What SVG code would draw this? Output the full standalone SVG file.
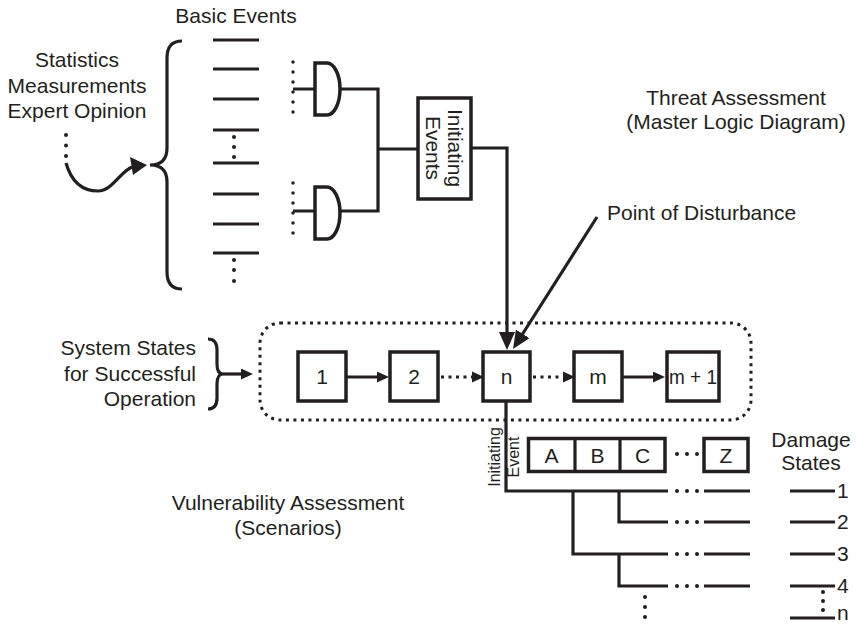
<svg xmlns="http://www.w3.org/2000/svg" width="856" height="626" viewBox="0 0 856 626">
<defs>
<style>
text{font-family:"Liberation Sans",Arial,sans-serif;font-size:21px;fill:#231f20}
.m{text-anchor:middle}
.e{text-anchor:end}
.s{font-size:16px}
.ln{stroke:#231f20;stroke-width:3.2;fill:none}
.bx{stroke:#231f20;stroke-width:3.5;fill:#fff}
.dt{stroke:#231f20;stroke-width:3;fill:none;stroke-dasharray:3 4.5}
.dc{stroke:#231f20;stroke-width:3.5;fill:none;stroke-dasharray:0 10;stroke-linecap:round}
.dot{fill:#231f20}
</style>
<marker id="ab" markerUnits="userSpaceOnUse" markerWidth="18" markerHeight="16" refX="2" refY="8" orient="auto">
<path d="M0,0 L18,8 L0,16 Z" fill="#231f20"/>
</marker>
<marker id="as" markerUnits="userSpaceOnUse" markerWidth="12" markerHeight="11" refX="2" refY="5.5" orient="auto">
<path d="M0,0 L12,5.5 L0,11 Z" fill="#231f20"/>
</marker>
</defs>
<rect width="856" height="626" fill="#fff"/>

<g id="labels">
<text class="m" x="236" y="23">Basic Events</text>
<text class="m" x="77" y="67">Statistics</text>
<text class="m" x="77" y="93">Measurements</text>
<text class="m" x="77" y="118">Expert Opinion</text>
<text class="m" x="736" y="105">Threat Assessment</text>
<text class="m" x="736" y="129">(Master Logic Diagram)</text>
<text x="607" y="220">Point of Disturbance</text>
<text class="e" x="196" y="355">System States</text>
<text class="e" x="196" y="381">for Successful</text>
<text class="e" x="196" y="406">Operation</text>
<text class="m" x="288" y="510">Vulnerability Assessment</text>
<text class="m" x="288" y="535">(Scenarios)</text>
<text class="m" x="811" y="447">Damage</text>
<text class="m" x="811" y="470">States</text>
<text x="837" y="498">1</text>
<text x="837" y="529">2</text>
<text x="837" y="561">3</text>
<text x="837" y="593">4</text>
<text x="837" y="620">n</text>
</g>

<g id="sources">
<circle class="dot" cx="66" cy="135" r="2"/>
<circle class="dot" cx="66" cy="145.5" r="2"/>
<circle class="dot" cx="66" cy="156" r="2"/>
<path class="ln" d="M66,163 C72,184 84,191 98,191 C112,191 120,172 132,167"/>
<path d="M147,165 L130,157 L133,175 Z" fill="#231f20"/>
<path class="ln" d="M182,41 Q167,41 167,58 L167,148 Q167,165 150,165 Q167,165 167,182 L167,272 Q167,289 182,289"/>
</g>

<g id="basic-events">
<path class="ln" d="M213,40H259M213,69H259M213,99H259M213,130H259M213,163H259M213,194H259M213,224H259M213,253H259"/>
<circle class="dot" cx="234" cy="137" r="2"/>
<circle class="dot" cx="234" cy="147" r="2"/>
<circle class="dot" cx="234" cy="157" r="2"/>
<circle class="dot" cx="234" cy="260" r="2"/>
<circle class="dot" cx="234" cy="270" r="2"/>
<circle class="dot" cx="234" cy="281" r="2"/>
<line class="dc" x1="293" y1="62" x2="293" y2="122"/>
<line class="dc" x1="293" y1="183" x2="293" y2="243"/>
</g>

<g id="gate1">
<path class="bx" d="M315,63 H327 A13,26 0 0 1 327,115 H315 Z"/>
</g>
<g id="gate2">
<path class="bx" d="M315,187 H327 A13,26 0 0 1 327,239 H315 Z"/>
</g>

<g id="initiating-events">
<rect class="bx" x="418" y="98" width="53" height="101"/>
<g transform="translate(444,148) rotate(90)">
<text class="m" x="0" y="-4">Initiating</text>
<text class="m" x="0" y="18">Events</text>
</g>
</g>

<g id="states-box">
<rect class="dt" x="260" y="323" width="491" height="97" rx="20"/>
<path class="ln" d="M208,339 Q217,339 217,350 L217,364 Q217,374 223,374 Q217,374 217,384 L217,398 Q217,409 208,409"/>
</g>

<g id="state1"><rect class="bx" x="298" y="352" width="48" height="49"/><text class="m" x="322" y="384">1</text></g>
<g id="state2"><rect class="bx" x="390" y="352" width="48" height="49"/><text class="m" x="414" y="384">2</text></g>
<g id="staten"><rect class="bx" x="483" y="352" width="47" height="49"/><text class="m" x="506.5" y="384">n</text></g>
<g id="statem"><rect class="bx" x="574" y="352" width="48" height="49"/><text class="m" x="598" y="384">m</text></g>
<g id="statem1"><rect class="bx" x="667" y="352" width="52" height="49"/><text class="m" x="693" y="384" textLength="48" lengthAdjust="spacingAndGlyphs">m + 1</text></g>

<g id="event-headers">
<rect class="bx" x="528.5" y="438.5" width="136.5" height="33"/>
<path class="ln" d="M575,438.5V471.5M620,438.5V471.5"/>
<text class="m" x="551.5" y="463">A</text>
<text class="m" x="597.5" y="463">B</text>
<text class="m" x="642.5" y="463">C</text>
<circle class="dot" cx="677" cy="454" r="2"/>
<circle class="dot" cx="687" cy="454" r="2"/>
<circle class="dot" cx="697" cy="454" r="2"/>
<rect class="bx" x="704" y="438.5" width="44" height="33"/>
<text class="m" x="726" y="463">Z</text>
<g transform="translate(506,457) rotate(-90)">
<text class="m s" x="0" y="-6">Initiating</text>
<text class="m s" x="0" y="13">Event</text>
</g>
</g>

<g id="connectors">
<path class="ln" d="M340,89 H378 V211 H340 M293,89 H315 M293,211 H315 M378,149 H418"/>
<path class="ln" d="M471,148 H507 V334" marker-end="url(#ab)"/>
<path class="ln" d="M597,217 L521.6,335.5" marker-end="url(#ab)"/>
<path class="ln" d="M223,374 H243" marker-end="url(#as)"/>
<path class="ln" d="M346,377 H379" marker-end="url(#as)"/>
<path class="dt" d="M441,377 H472"/>
<path d="M472,371.5 L484,377 L472,382.5 Z" fill="#231f20"/>
<path class="dt" d="M533,377 H563"/>
<path d="M563,371.5 L575,377 L563,382.5 Z" fill="#231f20"/>
<path class="ln" d="M622,377 H655" marker-end="url(#as)"/>
<path class="ln" d="M506,401 V491 H668 M573,491 V554 H668 M619,491 V522 H668 M619,554 V586 H668"/>
<g class="dot">
<circle cx="677" cy="491" r="2"/><circle cx="687" cy="491" r="2"/><circle cx="697" cy="491" r="2"/>
<circle cx="677" cy="522" r="2"/><circle cx="687" cy="522" r="2"/><circle cx="697" cy="522" r="2"/>
<circle cx="677" cy="554" r="2"/><circle cx="687" cy="554" r="2"/><circle cx="697" cy="554" r="2"/>
<circle cx="677" cy="586" r="2"/><circle cx="687" cy="586" r="2"/><circle cx="697" cy="586" r="2"/>
<circle cx="645" cy="597" r="2"/><circle cx="645" cy="607" r="2"/><circle cx="645" cy="617" r="2"/>
<circle cx="823" cy="592" r="2"/><circle cx="823" cy="601" r="2"/><circle cx="823" cy="610" r="2"/>
</g>
<path class="ln" d="M704,491H750M704,522H750M704,554H750M704,586H750"/>
<path class="ln" d="M790,491H835M790,522H835M790,554H835M790,586H835M790,618H835"/>
</g>
</svg>
